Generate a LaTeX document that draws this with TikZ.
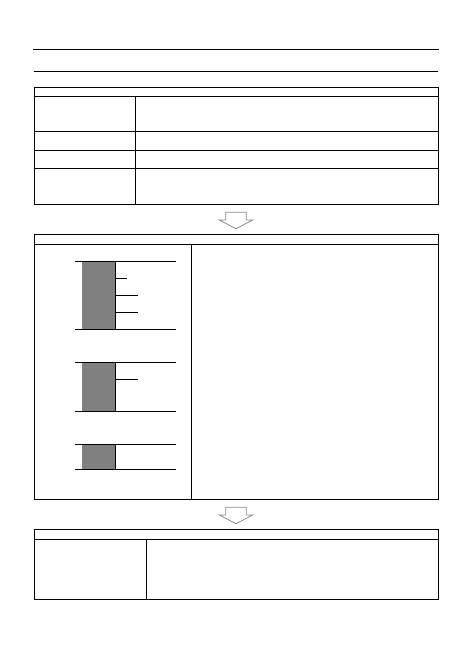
\documentclass[tikz,border=0pt]{standalone}
\usetikzlibrary{positioning}
\tikzset{%
    box/.style={draw,line width=1pt,inner sep=0pt,anchor=north west},
    rl/.style={line width=1pt},
    bar/.style={fill=black!50,draw=none},
    blk/.style={draw=black!45,line width=0.8pt,line join=miter,fill=white}
}
\begin{document}
\begin{tikzpicture}[x=1pt,y=-1pt]
            \useasboundingbox (0,0) rectangle (472,668);
            \draw[rl] (33,49.3) -- (439,49.3);
            \draw[rl] (33.7,71.3) -- (438.3,71.3);
            %%%%% first table
            \node [box,minimum width=404.6pt,minimum height=117.3pt] (tab1) at (33.7,86.7) {};
            \draw[rl] (33.7,96.7) -- (438.3,96.7);
            \draw[rl] (33.7,132) -- (438.3,132);
            \draw[rl] (33.7,150.7) -- (438.3,150.7);
            \draw[rl] (33.7,168.7) -- (438.3,168.7);
            \draw[rl] (135.3,96.7) -- (135.3,204);
            %%%%% second table
            \node [box,minimum width=404.6pt,minimum height=265pt] (tab2) at (33.7,234.3) {};
            \draw[rl] (33.7,244.3) -- (438.3,244.3);
            \draw[rl] (191.3,244.3) -- (191.3,499.3);
            %%%%% third table
            \node [box,minimum width=404.6pt,minimum height=70pt] (tab3) at (33.7,529.3) {};
            \draw[rl] (33.7,539.3) -- (438.3,539.3);
            \draw[rl] (146.7,539.3) -- (146.7,599.3);
            %%%%% layers
            \foreach \t/\b in {261.3/329.3,362/411.3,444.3/469.3}{
                \fill[bar] (82,\t) rectangle (115.7,\b);
                \draw[rl] (75,\t) -- (175.7,\t);
                \draw[rl] (75,\b) -- (175.7,\b);
                \draw[rl] (115.7,\t) -- (115.7,\b);
            }
            \draw[rl] (115.7,278.3) -- (127,278.3);
            \draw[rl] (115.7,295.3) -- (138,295.3);
            \draw[rl] (115.7,312.3) -- (138,312.3);
            \draw[rl] (115.7,379.3) -- (138,379.3);
            %%%%% arrows
            \coordinate (a1) at (236,212.3);
            \coordinate (a2) at (236,507.3);
            \foreach \a in {a1,a2}{
                \draw[blk] ([shift={(-10.3,0)}]\a) -- ([shift={(10.3,0)}]\a)
                -- ([shift={(10.3,7.7)}]\a) -- ([shift={(16.7,7.7)}]\a)
                -- ([shift={(0,16.4)}]\a) -- ([shift={(-16.7,7.7)}]\a)
                -- ([shift={(-10.3,7.7)}]\a) -- cycle;
            }
\end{tikzpicture}
\end{document}
